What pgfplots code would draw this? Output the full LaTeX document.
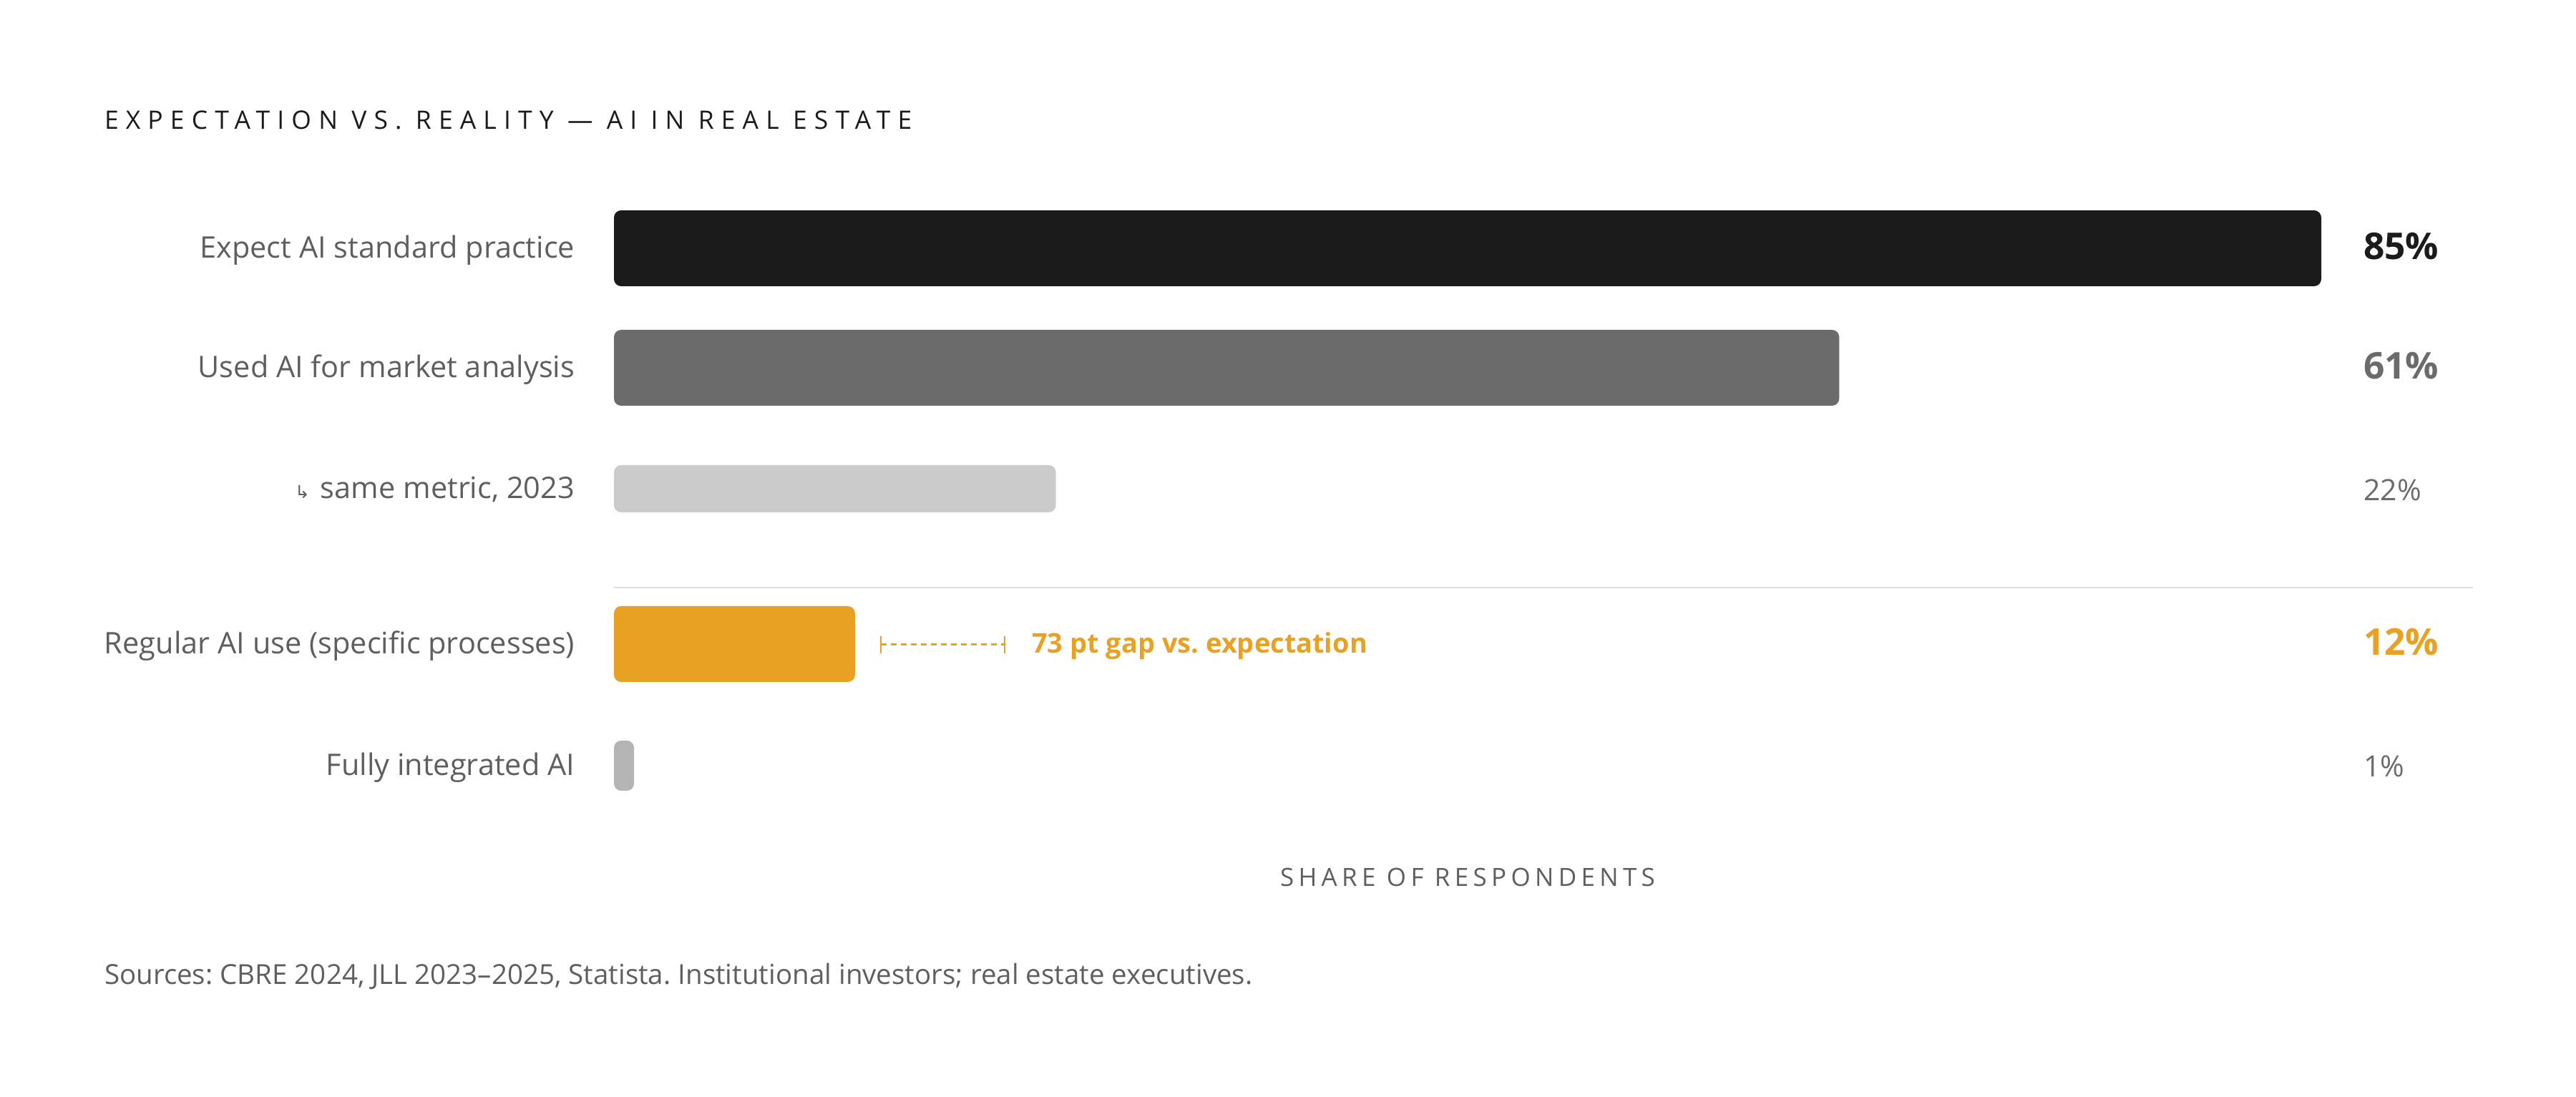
\documentclass[border=0pt]{standalone}
\usepackage{pgfplots}
\pgfplotsset{compat=1.18}
\usepackage{fontspec}
\setmainfont{Open Sans}
\newfontfamily\symfont{DejaVu Sans}
\frenchspacing

\definecolor{barblack}{HTML}{1B1B1B}
\definecolor{bardark}{HTML}{6B6B6B}
\definecolor{barlight}{HTML}{CBCBCB}
\definecolor{barorange}{HTML}{E8A122}
\definecolor{bartiny}{HTML}{B4B4B4}
\definecolor{labelgray}{HTML}{5E5E5E}
\definecolor{rulegray}{HTML}{DDDDDD}

% 1 px of the reference = 0.2pt; x in percent, y in reference pixels from the top
\newcommand{\lab}[2]{\node[anchor=base east, inner sep=0, text=labelgray,
  font=\fontsize{8.3}{10}\selectfont] at (axis cs:-1.92,#1) {#2};}

\begin{document}
\begin{tikzpicture}
\begin{axis}[
    width=720pt, height=306.6pt, scale only axis,
    xmin=-30.567, xmax=97.684,
    ymin=0, ymax=1533, y dir=reverse,
    hide axis, clip=false,
    xbar, bar shift=0pt,
]
\path (rel axis cs:0,0) (rel axis cs:1,1);

\addplot[draw=none, fill=barblack, bar width=106, rounded corners=2pt]
    coordinates {(85,347)};
\addplot[draw=none, fill=bardark, bar width=106, rounded corners=2pt]
    coordinates {(61,514)};
\addplot[draw=none, fill=barlight, bar width=66, rounded corners=2pt]
    coordinates {(22,683)};
\addplot[draw=none, fill=barorange, bar width=106, rounded corners=2pt]
    coordinates {(12,900)};
\addplot[draw=none, fill=bartiny, bar width=70, rounded corners=2pt]
    coordinates {(1,1070)};

% separator
\draw[rulegray, line width=0.5pt] (axis cs:0,821) -- (axis cs:92.55,821);

% category labels
\lab{361}{Expect AI standard practice}
\lab{528}{Used AI for market analysis}
\lab{697}{{\symfont\fontsize{5}{6}\selectfont ↳}\hspace{3pt}same metric, 2023}
\lab{914}{Regular AI use (specific processes)}
\lab{1084}{Fully integrated AI}

% value labels
\node[anchor=base west, inner sep=0, text=barblack, font=\bfseries\fontsize{10.3}{12}\selectfont]
    at (axis cs:87.07,363) {85\%};
\node[anchor=base west, inner sep=0, text=bardark, font=\bfseries\fontsize{10.3}{12}\selectfont]
    at (axis cs:87.07,530) {61\%};
\node[anchor=base west, inner sep=0, text=bardark, font=\fontsize{8.2}{12}\selectfont]
    at (axis cs:87.07,700) {22\%};
\node[anchor=base west, inner sep=0, text=barorange, font=\bfseries\fontsize{10.3}{12}\selectfont]
    at (axis cs:87.07,916) {12\%};
\node[anchor=base west, inner sep=0, text=bardark, font=\fontsize{8.2}{12}\selectfont]
    at (axis cs:87.07,1086) {1\%};

% gap annotation
\draw[barorange, line width=0.6pt, dash pattern=on 1.6pt off 1.2pt]
    (axis cs:13.29,901) -- (axis cs:19.45,901);
\draw[barorange, line width=0.5pt] (axis cs:13.29,889) -- (axis cs:13.29,913);
\draw[barorange, line width=0.5pt] (axis cs:19.45,889) -- (axis cs:19.45,913);
\node[anchor=base west, inner sep=0, text=barorange, font=\bfseries\fontsize{7.6}{9}\selectfont]
    at (axis cs:20.77,913) {73 pt gap vs. expectation};

% title, axis label, source
\node[anchor=base west, inner sep=0, text=barblack,
    font=\fontsize{7.1}{9}\selectfont\addfontfeature{LetterSpace=28.5}]
    at (axis cs:-25.40,181) {EXPECTATION VS. REALITY — AI IN REAL ESTATE};
\node[anchor=base, inner sep=0, text=labelgray,
    font=\fontsize{7}{9}\selectfont\addfontfeature{LetterSpace=18}]
    at (axis cs:42.50,1239) {SHARE OF RESPONDENTS};
\node[anchor=base west, inner sep=0, text=labelgray, font=\fontsize{7.7}{9}\selectfont]
    at (axis cs:-25.40,1376) {Sources: CBRE 2024, JLL 2023–2025, Statista. Institutional investors; real estate executives.};
\end{axis}
\end{tikzpicture}
\end{document}
